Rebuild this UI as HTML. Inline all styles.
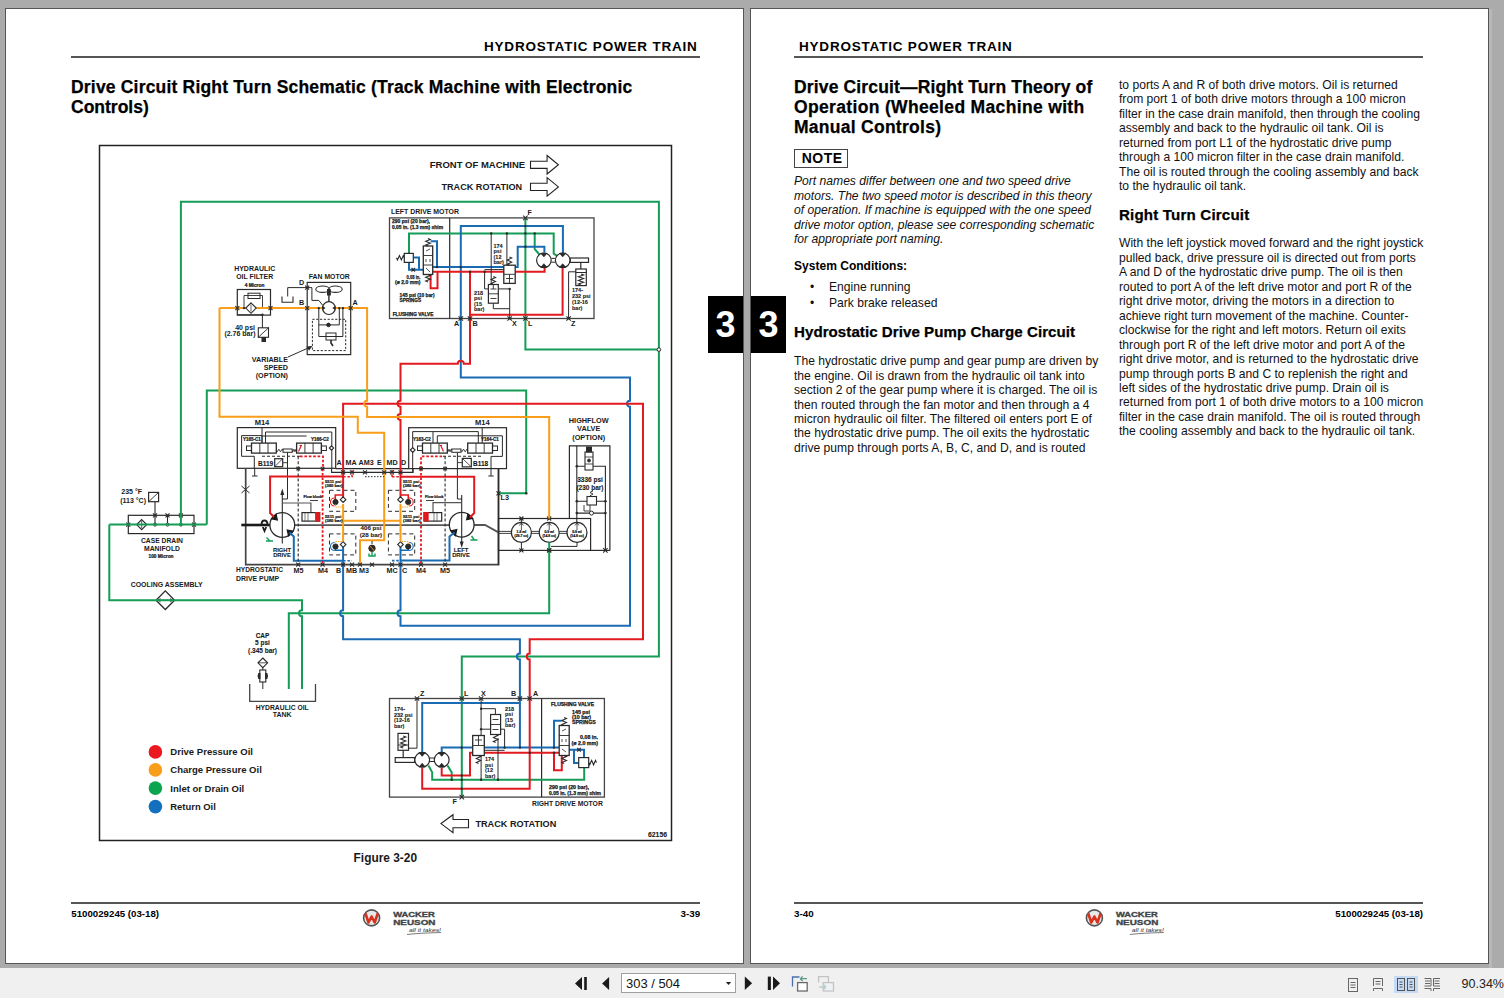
<!DOCTYPE html>
<html><head><meta charset="utf-8">
<style>
*{margin:0;padding:0;box-sizing:border-box}
html,body{width:1504px;height:998px;overflow:hidden;background:#ababab;font-family:"Liberation Sans",sans-serif;color:#000}
.abs{position:absolute}
.page{position:absolute;background:#fff;border:1px solid #555}
.t{position:absolute;white-space:nowrap;line-height:1}
.hd{font-weight:bold;font-size:13.5px;letter-spacing:0.8px}
.rule{position:absolute;height:2px;background:#555}
.h1{font-weight:bold;font-size:17.5px;line-height:20px;white-space:nowrap;-webkit-text-stroke:0.25px #000}
.body{font-size:12.12px;line-height:14.47px;color:#111}
.tab{position:absolute;background:#000;color:#fff;font-weight:bold;font-size:36px;text-align:center;line-height:57px}
#toolbar{position:absolute;left:0;top:968px;width:1504px;height:30px;background:#f0f0f0}
</style></head><body>
<!-- pages -->
<div class="page" style="left:5px;top:8px;width:739px;height:956px"></div>
<div class="page" style="left:750px;top:8px;width:739px;height:956px"></div>
<div class="abs" style="left:1489px;top:9px;width:3px;height:959px;background:#b8b8b8"></div>

<!-- side tabs -->
<div class="tab" style="left:708px;top:296px;width:35px;height:57px">3</div>
<div class="tab" style="left:751px;top:296px;width:35px;height:57px">3</div>

<!-- left page header -->
<div class="t hd" id="lhd" style="left:484px;top:40.4px">HYDROSTATIC POWER TRAIN</div>
<div class="rule" style="left:71px;top:56px;width:629px"></div>
<div class="abs h1" id="ltitle" style="left:71px;top:77px"><span style="letter-spacing:0.19px">Drive Circuit Right Turn Schematic (Track Machine with Electronic</span><br>Controls)</div>

<!-- right page header -->
<div class="t hd" id="rhd" style="left:799px;top:40.4px">HYDROSTATIC POWER TRAIN</div>
<div class="rule" style="left:794px;top:56px;width:629px"></div>


<!-- right page content -->
<div class="abs h1" id="rtitle" style="left:794px;top:77px"><span style="letter-spacing:0.15px">Drive Circuit—Right Turn Theory of</span><br><span style="letter-spacing:0.34px">Operation (Wheeled Machine with</span><br><span style="letter-spacing:0.27px">Manual Controls)</span></div>
<div class="abs" style="left:794px;top:149px;width:54px;height:19px;border:1.8px solid #444"></div>
<div class="t" id="note" style="left:801.8px;top:151px;font-weight:bold;font-size:14px;letter-spacing:0.45px">NOTE</div>
<div class="abs body" id="ital" style="left:794px;top:174.2px;font-style:italic;white-space:nowrap">Port names differ between one and two speed drive<br>motors. The two speed motor is described in this theory<br>of operation. If machine is equipped with the one speed<br>drive motor option, please see corresponding schematic<br>for appropriate port naming.</div>
<div class="t" id="sysc" style="left:794px;top:260.2px;font-weight:bold;font-size:12.05px">System Conditions:</div>
<div class="t body" style="left:810px;top:280px">&#8226;</div>
<div class="t body" style="left:810px;top:295.8px">&#8226;</div>
<div class="t body" id="b1" style="left:829px;top:280px">Engine running</div>
<div class="t body" style="left:829px;top:295.8px">Park brake released</div>
<div class="abs h1" id="h2a" style="left:794px;top:322px;font-size:15.1px;letter-spacing:0.05px">Hydrostatic Drive Pump Charge Circuit</div>
<div class="abs body" id="para1" style="left:794px;top:354.1px;white-space:nowrap">The hydrostatic drive pump and gear pump are driven by<br>the engine. Oil is drawn from the hydraulic oil tank into<br>section 2 of the gear pump where it is charged. The oil is<br>then routed through the fan motor and then through a 4<br>micron hydraulic oil filter. The filtered oil enters port E of<br>the hydrostatic drive pump. The oil exits the hydrostatic<br>drive pump through ports A, B, C, and D, and is routed</div>
<div class="abs body" id="para2" style="left:1119px;top:77.9px;white-space:nowrap">to ports A and R of both drive motors. Oil is returned<br>from port 1 of both drive motors through a 100 micron<br>filter in the case drain manifold, then through the cooling<br>assembly and back to the hydraulic oil tank. Oil is<br>returned from port L1 of the hydrostatic drive pump<br>through a 100 micron filter in the case drain manifold.<br>The oil is routed through the cooling assembly and back<br>to the hydraulic oil tank.</div>
<div class="abs h1" id="h2b" style="left:1119px;top:204.5px;font-size:15.1px;letter-spacing:0.18px">Right Turn Circuit</div>
<div class="abs body" id="para3" style="left:1119px;top:236.3px;white-space:nowrap">With the left joystick moved forward and the right joystick<br>pulled back, drive pressure oil is directed out from ports<br>A and D of the hydrostatic drive pump. The oil is then<br>routed to port A of the left drive motor and port R of the<br>right drive motor, driving the motors in a direction to<br>achieve right turn movement of the machine. Counter-<br>clockwise for the right and left motors. Return oil exits<br>through port R of the left drive motor and port A of the<br>right drive motor, and is returned to the hydrostatic drive<br>pump through ports B and C to replenish the right and<br>left sides of the hydrostatic drive pump. Drain oil is<br>returned from port 1 of both drive motors to a 100 micron<br>filter in the case drain manifold. The oil is routed through<br>the cooling assembly and back to the hydraulic oil tank.</div>


<svg class="abs" style="left:0;top:0" width="1504" height="998">
<rect x="99.5" y="145.5" width="572.0" height="695.0" stroke="#222" stroke-width="1.5" fill="none"/>
<rect x="389.5" y="217.9" width="204.5" height="100.6" stroke="#444" stroke-width="1.3" fill="none"/>
<path d="M449.7,217.9 V318.5" stroke="#2a2a2a" stroke-width="1.2" fill="none"/>
<rect x="389.5" y="698.5" width="214.9" height="98.6" stroke="#444" stroke-width="1.3" fill="none"/>
<path d="M541.6,698.5 V797.1" stroke="#2a2a2a" stroke-width="1.2" fill="none"/>
<rect x="307.2" y="282.4" width="43.5" height="72.2" stroke="#2a2a2a" stroke-width="1.2" fill="none"/>
<path d="M312.4,319.3 H345.7 V350.6 H312.4 Z" stroke="#2a2a2a" stroke-width="1.0" fill="none" stroke-dasharray="2.2,1.6"/>
<path d="M287.7,296.5 V287.6 H311.9 V300.4 H318.8 L322.5,305" stroke="#2a2a2a" stroke-width="1.0" fill="none"/>
<path d="M282,296.5 V302.3 H293 V296.5" stroke="#2a2a2a" stroke-width="1.1" fill="none"/>
<path d="M318.8,308 V336.5 H342.9 V308 M339.3,308 V324.9 H318.8" stroke="#2a2a2a" stroke-width="1.0" fill="none"/>
<rect x="326" y="333" width="10" height="7" stroke="#2a2a2a" stroke-width="1.0" fill="none"/>
<path d="M331,340 V343 L333,346" stroke="#2a2a2a" stroke-width="1.6" fill="none"/>
<circle cx="328.5" cy="324.9" r="1.8" stroke="#2a2a2a" stroke-width="1" fill="#2a2a2a"/>
<ellipse cx="322.6" cy="289.2" rx="6.8" ry="3.2" fill="none" stroke="#2a2a2a" stroke-width="1.1"/>
<ellipse cx="335.4" cy="289.2" rx="6.8" ry="3.2" fill="none" stroke="#2a2a2a" stroke-width="1.1"/>
<path d="M328.9,289.5 V302" stroke="#2a2a2a" stroke-width="1.4" fill="none"/>
<rect x="327.5" y="289.5" width="2.8" height="5.5" stroke="#2a2a2a" stroke-width="1" fill="#2a2a2a"/>
<path d="M288,357 L311.5,346.5" stroke="#2a2a2a" stroke-width="1.0" fill="none"/>
<path d="M312.4,346 L306.5,346.5 L309,350.8 Z" fill="#2a2a2a"/>
<rect x="237.3" y="289.5" width="33.2" height="25.6" stroke="#2a2a2a" stroke-width="1.2" fill="none"/>
<rect x="248" y="293.2" width="12" height="5.3" stroke="#2a2a2a" stroke-width="1.0" fill="none"/>
<path d="M244,308.1 V295.5 H262.5 V308.1" stroke="#2a2a2a" stroke-width="0.9" fill="none"/>
<path d="M237.3,314.8 H262.4 V327.8" stroke="#2a2a2a" stroke-width="1.0" fill="none"/>
<rect x="258.3" y="327.8" width="10.2" height="9.5" stroke="#2a2a2a" stroke-width="1.1" fill="none"/>
<path d="M258.3,337.3 L268.5,327.8" stroke="#2a2a2a" stroke-width="0.9" fill="none"/>
<rect x="262" y="337.5" width="3.5" height="4.0" stroke="#2a2a2a" stroke-width="1" fill="#2a2a2a"/>
<rect x="237.3" y="427.6" width="98.4" height="40.7" stroke="#2a2a2a" stroke-width="1.2" fill="none"/>
<path d="M241.6,435.6 V456.3 H254.3 V468.3" stroke="#2a2a2a" stroke-width="1.0" fill="none"/>
<path d="M241.6,435.6 H262 M331.8,432 H265.5 V443 M306.6,436 H262 V443 M262,427.6 V443" stroke="#2a2a2a" stroke-width="1.0" fill="none"/>
<path d="M331.8,432 V468.5" stroke="#2a2a2a" stroke-width="1.0" fill="none"/>
<rect x="251.5" y="443.1" width="24.8" height="10.0" stroke="#2a2a2a" stroke-width="1.3" fill="none"/>
<rect x="296.6" y="443.1" width="24.8" height="10.0" stroke="#2a2a2a" stroke-width="1.3" fill="none"/>
<path d="M259.8,443.1 V453.1 M268,443.1 V453.1 M304.9,443.1 V453.1 M313.1,443.1 V453.1" stroke="#2a2a2a" stroke-width="0.9" fill="none"/>
<rect x="246.5" y="446" width="5.0" height="4.5" stroke="#2a2a2a" stroke-width="1.0" fill="none"/>
<rect x="321.4" y="446" width="5.0" height="4.5" stroke="#2a2a2a" stroke-width="1.0" fill="none"/>
<rect x="283" y="449" width="9.2" height="3.3" stroke="#2a2a2a" stroke-width="1.0" fill="none"/>
<path d="M298.5,451.5 L301.5,445 M299.5,445.5 H302" stroke="#e21a20" stroke-width="1.2" fill="none"/>
<path d="M443.5,451.5 L440.5,445 M442,445.5 H439.5" stroke="#e21a20" stroke-width="1.2" fill="none"/>
<path d="M276.3,450.5 L277.1375,451.8 L278.8125,449.2 L280.4875,451.8 L282.1625,449.2 L283,450.5" stroke="#2a2a2a" stroke-width="0.9" fill="none"/>
<path d="M292.2,450.5 L292.75,451.8 L293.85,449.2 L294.95,451.8 L296.05,449.2 L296.6,450.5" stroke="#2a2a2a" stroke-width="0.9" fill="none"/>
<path d="M287.5,452.3 V499 H282.3" stroke="#2a2a2a" stroke-width="1.0" fill="none"/>
<path d="M331.5,445.8 L333.7,448 L331.5,450.2 L329.3,448 Z" stroke="#2a2a2a" stroke-width="1.1" fill="#fff"/>
<rect x="274.7" y="458.7" width="8.0" height="8.0" stroke="#2a2a2a" stroke-width="1.2" fill="none"/>
<path d="M274.7,466.7 L282.7,458.7" stroke="#2a2a2a" stroke-width="0.8" fill="none"/>
<path d="M282.7,462.7 H287.5" stroke="#2a2a2a" stroke-width="0.9" fill="none"/>
<path d="M254.7,468.3 V476 M252,476 H257.5" stroke="#2a2a2a" stroke-width="1.0" fill="none"/>
<rect x="408.7" y="427.7" width="97.8" height="40.9" stroke="#2a2a2a" stroke-width="1.2" fill="none"/>
<path d="M412.7,472.4 V431.6 H478.3 V443 M433,431.6 V443 M482.2,427.8 V443" stroke="#2a2a2a" stroke-width="1.0" fill="none"/>
<path d="M437.3,443 V435.8 H502.4" stroke="#2a2a2a" stroke-width="1.0" fill="none"/>
<path d="M502.4,435.8 V456.4 H491 V468.6" stroke="#2a2a2a" stroke-width="1.0" fill="none"/>
<rect x="422.5" y="443.1" width="24.8" height="10.0" stroke="#2a2a2a" stroke-width="1.3" fill="none"/>
<rect x="467.7" y="443.1" width="24.8" height="10.0" stroke="#2a2a2a" stroke-width="1.3" fill="none"/>
<path d="M430.8,443.1 V453.1 M439,443.1 V453.1 M476,443.1 V453.1 M484.2,443.1 V453.1" stroke="#2a2a2a" stroke-width="0.9" fill="none"/>
<rect x="417.5" y="446" width="5.0" height="4.5" stroke="#2a2a2a" stroke-width="1.0" fill="none"/>
<rect x="492.5" y="446" width="5.0" height="4.5" stroke="#2a2a2a" stroke-width="1.0" fill="none"/>
<rect x="451.8" y="449" width="9.2" height="3.3" stroke="#2a2a2a" stroke-width="1.0" fill="none"/>
<path d="M447.3,450.5 L447.8625,451.8 L448.9875,449.2 L450.1125,451.8 L451.2375,449.2 L451.8,450.5" stroke="#2a2a2a" stroke-width="0.9" fill="none"/>
<path d="M461,450.5 L461.8375,451.8 L463.5125,449.2 L465.1875,451.8 L466.8625,449.2 L467.7,450.5" stroke="#2a2a2a" stroke-width="0.9" fill="none"/>
<path d="M457.4,452.3 V468.6" stroke="#2a2a2a" stroke-width="1.0" fill="none"/>
<path d="M412.7,447.6 L415.09999999999997,450 L412.7,452.4 L410.3,450 Z" stroke="#2a2a2a" stroke-width="1.1" fill="#fff"/>
<rect x="462.3" y="458.4" width="9.0" height="8.5" stroke="#2a2a2a" stroke-width="1.2" fill="none"/>
<path d="M462.3,458.4 L471.3,466.9" stroke="#2a2a2a" stroke-width="0.8" fill="none"/>
<path d="M457.4,462.6 H462.3" stroke="#2a2a2a" stroke-width="0.9" fill="none"/>
<path d="M491,468.6 V476 M488.3,476 H493.7" stroke="#2a2a2a" stroke-width="1.0" fill="none"/>
<path d="M245.7,468.3 V564.6 H498.5 V468.6" stroke="#444" stroke-width="1.7" fill="none"/>
<path d="M335.7,468.6 H408.7" stroke="#2a2a2a" stroke-width="1.2" fill="none"/>
<path d="M331.6,468.6 V472.4 H413.1 V468.6" stroke="#2a2a2a" stroke-width="1.1" fill="none"/>
<path d="M241.3,525 H270" stroke="#1a1a1a" stroke-width="2.6" fill="none"/>
<path d="M261.5,525 Q261.5,520.5 264.5,520.5 Q267.5,520.5 267.5,525 M262.8,527 L264.5,531 L266.2,527" fill="none" stroke="#1a1a1a" stroke-width="1.8"/>
<path d="M294.2,525.2 H449.2 M473.8,525 H485 L498.5,532.4" stroke="#555" stroke-width="1.8" fill="none"/>
<path d="M241.5,486 L249.5,493 M241.5,493 L249.5,486" stroke="#2a2a2a" stroke-width="1.0" fill="none"/>
<circle cx="282.3" cy="525.0" r="12.4" stroke="#2a2a2a" stroke-width="1.3" fill="#fff"/>
<circle cx="461.7" cy="524.7" r="12.4" stroke="#2a2a2a" stroke-width="1.3" fill="#fff"/>
<path d="M282.3,492 V543.5" stroke="#2a2a2a" stroke-width="1.1" fill="none"/>
<path d="M461.7,494.9 V543.5" stroke="#2a2a2a" stroke-width="1.1" fill="none"/>
<path d="M280.3,495 L282.3,488.5 L284.3,495 Z M459.7,541.5 L461.7,548 L463.7,541.5 Z" fill="#2a2a2a"/>
<path d="M276.08,514.25 L271.55,518.78 L277.35,520.05 Z" fill="#1a1a1a" stroke="#1a1a1a" stroke-width="1.2"/>
<path d="M288.52,535.75 L293.05,531.22 L287.25,529.95 Z" fill="#1a1a1a" stroke="#1a1a1a" stroke-width="1.2"/>
<path d="M472.45,518.48 L467.92,513.95 L466.65,519.75 Z" fill="#1a1a1a" stroke="#1a1a1a" stroke-width="1.2"/>
<path d="M450.95,530.92 L455.48,535.45 L456.75,529.65 Z" fill="#1a1a1a" stroke="#1a1a1a" stroke-width="1.2"/>
<path d="M282.3,503 H310.9 V512.6" stroke="#555" stroke-width="1.2" fill="none"/>
<path d="M461.7,502.6 H433 V512.6" stroke="#555" stroke-width="1.2" fill="none"/>
<path d="M457.4,468.6 V499 H461.7" stroke="#2a2a2a" stroke-width="1.0" fill="none"/>
<rect x="302" y="512.6" width="17.7" height="8.5" stroke="#2a2a2a" stroke-width="1.2" fill="none"/>
<rect x="315.5" y="512.6" width="4.2" height="8.5" stroke="#e21a20" stroke-width="0.8" fill="#e21a20"/>
<rect x="424" y="512.6" width="17.7" height="8.5" stroke="#2a2a2a" stroke-width="1.2" fill="none"/>
<rect x="424" y="512.6" width="4.2" height="8.5" stroke="#e21a20" stroke-width="0.8" fill="#e21a20"/>
<path d="M305,512.6 V521.1 M308,512.6 V521.1" stroke="#2a2a2a" stroke-width="0.6" fill="none"/>
<path d="M434,512.6 V521.1 M437,512.6 V521.1" stroke="#2a2a2a" stroke-width="0.6" fill="none"/>
<path d="M318,500.5 H310 M434,500.5 H426" stroke="#2a2a2a" stroke-width="0.9" fill="none"/>
<path d="M329.5,490.3 H355.8 V511.3 H329.5 Z" stroke="#2a2a2a" stroke-width="1.0" fill="none" stroke-dasharray="4,3"/>
<path d="M329.5,533.9 H355.8 V554.9 H329.5 Z" stroke="#2a2a2a" stroke-width="1.0" fill="none" stroke-dasharray="4,3"/>
<path d="M388.4,490.3 H414.7 V511.3 H388.4 Z" stroke="#2a2a2a" stroke-width="1.0" fill="none" stroke-dasharray="4,3"/>
<path d="M388.4,533.9 H414.7 V554.9 H388.4 Z" stroke="#2a2a2a" stroke-width="1.0" fill="none" stroke-dasharray="4,3"/>
<rect x="498.5" y="518.5" width="92.1" height="31.9" stroke="#2a2a2a" stroke-width="1.2" fill="none"/>
<path d="M498.5,565 V468.6" stroke="#2a2a2a" stroke-width="1.3" fill="none"/>
<path d="M590.6,550.4 H609.9" stroke="#2a2a2a" stroke-width="1.2" fill="none"/>
<circle cx="521.4" cy="532.4" r="10" stroke="#2a2a2a" stroke-width="1.2" fill="#fff"/>
<path d="M519.4,525.5 L521.4,523 L523.4,525.5 M521.4,523 V530" stroke="#2a2a2a" stroke-width="0.8" fill="none"/>
<circle cx="549.2" cy="532.4" r="10" stroke="#2a2a2a" stroke-width="1.2" fill="#fff"/>
<path d="M547.2,525.5 L549.2,523 L551.2,525.5 M549.2,523 V530" stroke="#2a2a2a" stroke-width="0.8" fill="none"/>
<circle cx="577.0" cy="532.4" r="10" stroke="#2a2a2a" stroke-width="1.2" fill="#fff"/>
<path d="M575.0,525.5 L577.0,523 L579.0,525.5 M577.0,523 V530" stroke="#2a2a2a" stroke-width="0.8" fill="none"/>
<path d="M498.5,531.4 H511.4 M498.5,533.4 H511.4 M531.4,531.4 H539.2 M531.4,533.4 H539.2 M559.2,531.4 H567 M559.2,533.4 H567" stroke="#2a2a2a" stroke-width="0.9" fill="none"/>
<path d="M521.4,518.5 V522.4 M521.4,542.4 V550.4 M577,542.4 V546.4 H551" stroke="#2a2a2a" stroke-width="1.0" fill="none"/>
<path d="M519.4,516.5 L523.4,520.5 M519.4,520.5 L523.4,516.5" stroke="#2a2a2a" stroke-width="1.1" fill="none"/>
<path d="M519.4,548.4 L523.4,552.4 M519.4,552.4 L523.4,548.4" stroke="#2a2a2a" stroke-width="1.1" fill="none"/>
<path d="M547.2,516.5 L551.2,520.5 M547.2,520.5 L551.2,516.5" stroke="#2a2a2a" stroke-width="1.1" fill="none"/>
<path d="M547.2,548.4 L551.2,552.4 M547.2,552.4 L551.2,548.4" stroke="#2a2a2a" stroke-width="1.1" fill="none"/>
<path d="M569.4,518.5 V445.8 H609.9 V550.4" stroke="#2a2a2a" stroke-width="1.2" fill="none"/>
<path d="M576.8,445.8 V522.4" stroke="#2a2a2a" stroke-width="1.1" fill="none"/>
<path d="M576.8,466.2 H605.4 V550.4 M576.8,501.3 H605.4 M576.8,513.1 H605.4" stroke="#2a2a2a" stroke-width="1.1" fill="none"/>
<rect x="585" y="452" width="8" height="18" stroke="#2a2a2a" stroke-width="1.1" fill="#fff"/>
<rect x="586.5" y="447" width="5.0" height="5" stroke="#2a2a2a" stroke-width="1.0" fill="#2a2a2a"/>
<path d="M585,457 H593 M585,464 H593" stroke="#2a2a2a" stroke-width="0.8" fill="none"/>
<circle cx="589" cy="460.5" r="1.5" stroke="#2a2a2a" stroke-width="0.8" fill="#2a2a2a"/>
<rect x="587" y="496.5" width="9.5" height="8.5" stroke="#2a2a2a" stroke-width="1.1" fill="#fff"/>
<path d="M584,505 V511 H590 V505" stroke="#2a2a2a" stroke-width="0.9" fill="none"/>
<path d="M591.5,490 L593.0,490.8125 L590.0,492.4375 L593.0,494.0625 L590.0,495.6875 L591.5,496.5" stroke="#2a2a2a" stroke-width="0.9" fill="none"/>
<circle cx="591.5" cy="513.1" r="2.0" stroke="#2a2a2a" stroke-width="1.0" fill="#fff"/>
<circle cx="576.8" cy="466.2" r="1.3" fill="#2a2a2a"/>
<circle cx="576.8" cy="501.3" r="1.3" fill="#2a2a2a"/>
<circle cx="605.4" cy="501.3" r="1.3" fill="#2a2a2a"/>
<circle cx="576.8" cy="513.1" r="1.3" fill="#2a2a2a"/>
<circle cx="605.4" cy="513.1" r="1.3" fill="#2a2a2a"/>
<path d="M603.1999999999999,548.1999999999999 L607.6,552.6 M603.1999999999999,552.6 L607.6,548.1999999999999" stroke="#2a2a2a" stroke-width="1.1" fill="none"/>
<rect x="128.3" y="515.3" width="65.7" height="18.3" stroke="#2a2a2a" stroke-width="1.2" fill="none"/>
<path d="M155,501.7 V524.6 M167.5,515.3 V524.6" stroke="#2a2a2a" stroke-width="1.1" fill="none"/>
<rect x="148.6" y="492.4" width="10.0" height="9.3" stroke="#2a2a2a" stroke-width="1.2" fill="none"/>
<path d="M148.6,501.7 L158.6,492.4" stroke="#2a2a2a" stroke-width="0.9" fill="none"/>
<path d="M141.7,519.6 L146.7,524.6 L141.7,529.6 L136.7,524.6 Z" stroke="#2a2a2a" stroke-width="1.2" fill="#fff"/>
<path d="M141.7,521 V528.2" stroke="#2a2a2a" stroke-width="0.8" fill="none"/>
<path d="M153.0,513.3 L157.0,517.3 M153.0,517.3 L157.0,513.3" stroke="#2a2a2a" stroke-width="1.1" fill="none"/>
<path d="M165.5,513.3 L169.5,517.3 M165.5,517.3 L169.5,513.3" stroke="#2a2a2a" stroke-width="1.1" fill="none"/>
<path d="M178.9,513.3 L182.9,517.3 M178.9,517.3 L182.9,513.3" stroke="#2a2a2a" stroke-width="1.1" fill="none"/>
<circle cx="155" cy="524.6" r="1.5" stroke="#2a2a2a" stroke-width="1.0" fill="#fff"/>
<circle cx="167.5" cy="524.6" r="1.5" stroke="#2a2a2a" stroke-width="1.0" fill="#fff"/>
<circle cx="180.9" cy="524.6" r="1.5" stroke="#2a2a2a" stroke-width="1.0" fill="#fff"/>
<path d="M126.30000000000001,522.6 L130.3,526.6 M126.30000000000001,526.6 L130.3,522.6" stroke="#2a2a2a" stroke-width="1.1" fill="none"/>
<path d="M192.0,522.6 L196.0,526.6 M192.0,526.6 L196.0,522.6" stroke="#2a2a2a" stroke-width="1.1" fill="none"/>
<path d="M165.3,590.9000000000001 L174.60000000000002,600.2 L165.3,609.5 L156.0,600.2 Z" stroke="#2a2a2a" stroke-width="1.3" fill="#fff"/>
<path d="M158,600.2 H172.6 M158,600.2 L160.5,598.5 M158,600.2 L160.5,601.9 M172.6,600.2 L170.1,598.5 M172.6,600.2 L170.1,601.9" stroke="#2a2a2a" stroke-width="0.9" fill="none"/>
<path d="M249.7,684 V701.3 H315.5 V684" stroke="#444" stroke-width="1.3" fill="none"/>
<path d="M262.8,658.0 L267.6,662.8 L262.8,667.5999999999999 L258.0,662.8 Z" stroke="#2a2a2a" stroke-width="1.1" fill="#fff"/>
<path d="M258,662.8 H267.5" stroke="#2a2a2a" stroke-width="0.8" fill="none"/>
<rect x="259.8" y="670" width="6.0" height="12" stroke="#2a2a2a" stroke-width="1.1" fill="#fff"/>
<path d="M258.3,673 Q256.8,676 258.3,679 L260.5,679 L260.5,673 Z M267.3,673 Q268.8,676 267.3,679 L265,679 L265,673 Z" fill="#2a2a2a"/>
<path d="M262.8,682 V689 M262.8,667.6 V670" stroke="#2a2a2a" stroke-width="1.0" fill="none"/>
<path d="M180.9,524.6 V201.7 H658.9 V656.6 H461.8 V797.1" stroke="#159d58" stroke-width="2.0" fill="none"/>
<path d="M525.4,217.9 V349.6 H658.9" stroke="#159d58" stroke-width="2.0" fill="none"/>
<path d="M409,253.4 V233.4 H553.7 V253.6 L558,256.5" stroke="#159d58" stroke-width="2.0" fill="none"/>
<path d="M534.7,233.4 V249.2 L539.5,254.5" stroke="#159d58" stroke-width="2.0" fill="none"/>
<path d="M206.8,524.6 V390.5 H526.2 V493.3 H498.5" stroke="#159d58" stroke-width="2.0" fill="none"/>
<path d="M109.3,524.6 H206.8" stroke="#159d58" stroke-width="2.0" fill="none"/>
<path d="M109.3,524.6 V600.2 H302 V610.3 A3,3 0 0 0 302,616.3 V689" stroke="#159d58" stroke-width="2.0" fill="none"/>
<path d="M288.8,689 V613.3 H549.2 V542.4" stroke="#159d58" stroke-width="2.0" fill="none"/>
<path d="M428.5,765.5 L432.2,772.4 V779.7 H584.2 V767.6" stroke="#159d58" stroke-width="2.0" fill="none"/>
<path d="M447.5,765.5 L451.7,772.4 V779.7" stroke="#159d58" stroke-width="2.0" fill="none"/>
<path d="M460.8,318.5 V377.4 H630 V400.7 A3,3 0 0 0 630,406.7 V625.7 H400.5 V616.3 A3,3 0 0 1 400.5,610.3 V545" stroke="#196bb3" stroke-width="2.0" fill="none"/>
<path d="M460.8,318.5 V226.1 H562.9 V253" stroke="#196bb3" stroke-width="2.0" fill="none"/>
<path d="M409,262.4 V269.7 H423.3 M413.3,257.6 H419 V269.7" stroke="#196bb3" stroke-width="2.0" fill="none"/>
<path d="M432.7,267.1 H517.7 V246.8 H544.4 V252.5" stroke="#196bb3" stroke-width="2.0" fill="none"/>
<path d="M437,267.1 V241.3 H430.6" stroke="#196bb3" stroke-width="2.0" fill="none"/>
<path d="M343.1,545 V610.3 A3,3 0 0 0 343.1,616.3 V639.3 H519.9 V653.6 A3,3 0 0 0 519.9,659.6 V747.6" stroke="#196bb3" stroke-width="2.0" fill="none"/>
<path d="M422.2,752.5 V702.9 H519.9" stroke="#196bb3" stroke-width="2.0" fill="none"/>
<path d="M441.7,752.5 V747.6 H559.2" stroke="#196bb3" stroke-width="2.0" fill="none"/>
<path d="M554,747.6 V720.8 H561.8" stroke="#196bb3" stroke-width="2.0" fill="none"/>
<path d="M569.2,749.7 H584 V757.6 M574,749.7 V762.9 H578.7" stroke="#196bb3" stroke-width="2.0" fill="none"/>
<path d="M289.5,532.5 L293.8,536.5 V560.8 H343.1" stroke="#196bb3" stroke-width="2.0" fill="none"/>
<path d="M454.5,532.5 L449.5,536.5 V560.6 H400.5" stroke="#196bb3" stroke-width="2.0" fill="none"/>
<path d="M335.3,545 V550.3 H343.1 M408.3,545 V550.3 H400.5" stroke="#196bb3" stroke-width="1.6" fill="none"/>
<path d="M343.1,560.8 H352 M392,560.6 H400.5" stroke="#196bb3" stroke-width="1.6" fill="none" stroke-dasharray="2.5,1.8"/>
<path d="M343.1,499.2 V403.7 H643 V639.3 H529.7 V653.6 A3,3 0 0 0 529.7,659.6 V788.7 H422.2 V768" stroke="#e21a20" stroke-width="2.0" fill="none"/>
<path d="M400.5,499.2 V419.9 A3,3 0 0 1 400.5,413.9 V406.7 A3,3 0 0 1 400.5,400.7 V363.7 H457.8 A3,3 0 0 1 463.8,363.7 H470 V271.8" stroke="#e21a20" stroke-width="2.0" fill="none"/>
<path d="M432.7,271.8 H544.6 V268" stroke="#e21a20" stroke-width="2.0" fill="none"/>
<path d="M470,314.8 H562.6 V268" stroke="#e21a20" stroke-width="2.0" fill="none"/>
<path d="M430.6,271.8 V288.2 H437.5 V271.8" stroke="#e21a20" stroke-width="2.0" fill="none"/>
<path d="M274,517 L270.1,513 V476.6 H343.1" stroke="#e21a20" stroke-width="2.0" fill="none"/>
<path d="M470,517.5 L474.2,513 V476.8 H400.5" stroke="#e21a20" stroke-width="2.0" fill="none"/>
<path d="M441.7,768 V775.5 H470 V752.7 H559.2" stroke="#e21a20" stroke-width="2.0" fill="none"/>
<path d="M554,752.7 V770.3 H561.8 V755.5" stroke="#e21a20" stroke-width="2.0" fill="none"/>
<path d="M343.1,495 H335.3 V500 M400.5,495 H408.3 V500" stroke="#e21a20" stroke-width="1.6" fill="none"/>
<path d="M219.5,308.1 H367.1 V400.7 A3,3 0 0 0 367.1,406.7 V416.9 H549.2 V518.5" stroke="#f89e1b" stroke-width="2.0" fill="none"/>
<path d="M219.5,308.1 V416.8 H357.8 V432.8 H384.2 V540.3 H360 V564.6" stroke="#f89e1b" stroke-width="2.0" fill="none"/>
<path d="M343.1,504 V541 M400.5,504 V541 M343.1,520.8 H400.5" stroke="#f89e1b" stroke-width="2.0" fill="none"/>
<path d="M322.6,468.6 V564.6 M421,468.6 V564.6" stroke="#e21a20" stroke-width="1.8" fill="none" stroke-dasharray="2.6,1.8"/>
<path d="M300,456.3 H323 V468.6 M421,468.6 V456.3 H443" stroke="#e21a20" stroke-width="1.8" fill="none" stroke-dasharray="2.6,1.8"/>
<path d="M343.1,476.7 H352 V468.6 M392,476.7 H400.5 M392,476.7 V468.6" stroke="#e21a20" stroke-width="1.6" fill="none" stroke-dasharray="2.5,1.8"/>
<path d="M298.2,468.6 V564.6 M445.1,468.6 V564.6" stroke="#2a2a2a" stroke-width="1.1" fill="none" stroke-dasharray="3,2"/>
<path d="M262,456.3 H300 M298.2,456.3 V468.6 M443,456.3 H482 M445.1,456.3 V468.6" stroke="#2a2a2a" stroke-width="1.1" fill="none" stroke-dasharray="3,2"/>
<path d="M365,476.7 H384.2" stroke="#2a2a2a" stroke-width="1.0" fill="none" stroke-dasharray="1.5,1.5"/>
<path d="M372,541 V544" stroke="#2a2a2a" stroke-width="1" fill="none"/>
<circle cx="372" cy="548.3" r="3.2" stroke="#2a2a2a" stroke-width="1.0" fill="#2a2a2a"/>
<path d="M369.5,545.5 L374.5,551" stroke="#f89e1b" stroke-width="0.9" fill="none"/>
<path d="M369,553.5 V556 H375 V553.5 M372,551.5 V556" stroke="#159d58" stroke-width="1.4" fill="none"/>
<path d="M266.5,537.5 L270,541 M266,541 H273" stroke="#159d58" stroke-width="1.4" fill="none"/>
<path d="M471.5,536 L474,539.5 M470.5,540 H477.5" stroke="#159d58" stroke-width="1.4" fill="none"/>
<path d="M343.1,496.9 L345.90000000000003,499.7 L343.1,502.5 L340.3,499.7 Z" stroke="#2a2a2a" stroke-width="1.1" fill="#fff"/>
<path d="M343.1,541.7 L345.90000000000003,544.5 L343.1,547.3 L340.3,544.5 Z" stroke="#2a2a2a" stroke-width="1.1" fill="#fff"/>
<path d="M400.5,496.9 L403.3,499.7 L400.5,502.5 L397.7,499.7 Z" stroke="#2a2a2a" stroke-width="1.1" fill="#fff"/>
<path d="M400.5,541.7 L403.3,544.5 L400.5,547.3 L397.7,544.5 Z" stroke="#2a2a2a" stroke-width="1.1" fill="#fff"/>
<circle cx="335.5" cy="502" r="2.6" stroke="#2a2a2a" stroke-width="1" fill="#2a2a2a"/>
<circle cx="335.5" cy="546.5" r="2.6" stroke="#2a2a2a" stroke-width="1" fill="#2a2a2a"/>
<circle cx="408.2" cy="502" r="2.6" stroke="#2a2a2a" stroke-width="1" fill="#2a2a2a"/>
<circle cx="408.2" cy="546.5" r="2.6" stroke="#2a2a2a" stroke-width="1" fill="#2a2a2a"/>
<path d="M334.5,498 A4,4 0 0 0 334.5,506" stroke="#e21a20" stroke-width="1.1" fill="none"/>
<path d="M334.5,542.5 A4,4 0 0 0 334.5,550.5" stroke="#196bb3" stroke-width="1.1" fill="none"/>
<path d="M335.5,504.6 V507 H343.1" stroke="#f89e1b" stroke-width="1.0" fill="none" stroke-dasharray="1.4,1"/>
<path d="M335.5,543.9 V541.5 H343.1" stroke="#f89e1b" stroke-width="1.0" fill="none" stroke-dasharray="1.4,1"/>
<path d="M409.2,498 A4,4 0 0 1 409.2,506" stroke="#e21a20" stroke-width="1.1" fill="none"/>
<path d="M409.2,542.5 A4,4 0 0 1 409.2,550.5" stroke="#196bb3" stroke-width="1.1" fill="none"/>
<path d="M408.2,504.6 V507 H400.59999999999997" stroke="#f89e1b" stroke-width="1.0" fill="none" stroke-dasharray="1.4,1"/>
<path d="M408.2,543.9 V541.5 H400.59999999999997" stroke="#f89e1b" stroke-width="1.0" fill="none" stroke-dasharray="1.4,1"/>
<rect x="404.3" y="253.4" width="9.0" height="9.0" stroke="#2a2a2a" stroke-width="1.2" fill="#fff"/>
<path d="M396.5,257.8 L397.475,260.0 L399.425,255.60000000000002 L401.375,260.0 L403.325,255.60000000000002 L404.3,257.8" stroke="#2a2a2a" stroke-width="1.1" fill="none"/>
<rect x="423.3" y="246" width="9.4" height="28.5" stroke="#2a2a2a" stroke-width="1.3" fill="#fff"/>
<path d="M423.3,255.5 H432.7 M423.3,265 H432.7" stroke="#2a2a2a" stroke-width="0.9" fill="none"/>
<path d="M426,251 L430,249 M426,259 V262 M430,259 V262 M426,268 L430,272" stroke="#2a2a2a" stroke-width="0.8" fill="none"/>
<path d="M428,238.5 L430.3,239.4375 L425.7,241.3125 L430.3,243.1875 L425.7,245.0625 L428,246" stroke="#2a2a2a" stroke-width="1.1" fill="none"/>
<path d="M428,274.5 L430.3,275.4375 L425.7,277.3125 L430.3,279.1875 L425.7,281.0625 L428,282" stroke="#2a2a2a" stroke-width="1.1" fill="none"/>
<path d="M411.5,267.9 L415.1,271.5 M411.5,271.5 L415.1,267.9" stroke="#2a2a2a" stroke-width="1.1" fill="none"/>
<path d="M491.2,232.6 V284.5 M506.9,232.6 V265.2" stroke="#2a2a2a" stroke-width="1.0" fill="none"/>
<path d="M484.6,271.8 V288.9 H488.4 M498.3,288.9 H509.7 V318.5 M493.3,303.2 V308.7 H509.7 M484.6,269.6 H503.8" stroke="#2a2a2a" stroke-width="1.0" fill="none"/>
<rect x="488.4" y="284.5" width="9.9" height="18.7" stroke="#2a2a2a" stroke-width="1.2" fill="#fff"/>
<path d="M488.4,293.8 H498.3 M490.5,298.5 H496.5 M490.5,289 H496.5 M493.3,284.5 V289" stroke="#2a2a2a" stroke-width="0.9" fill="none"/>
<path d="M493.3,276.5 L495.5,277.5 L491.1,279.5 L495.5,281.5 L491.1,283.5 L493.3,284.5" stroke="#2a2a2a" stroke-width="1.1" fill="none"/>
<rect x="503.8" y="265.2" width="11.4" height="18.2" stroke="#2a2a2a" stroke-width="1.3" fill="#fff"/>
<path d="M503.8,274.3 H515.2 M506,278.5 H513 M509.5,274.3 V283.4" stroke="#2a2a2a" stroke-width="0.9" fill="none"/>
<path d="M509.5,257 L511.7,258.025 L507.3,260.075 L511.7,262.125 L507.3,264.175 L509.5,265.2" stroke="#2a2a2a" stroke-width="1.1" fill="none"/>
<path d="M551.3,258.4 H555.2 M551.3,262.2 H555.2" stroke="#2a2a2a" stroke-width="1.0" fill="none"/>
<circle cx="543.9" cy="260.3" r="7.3" stroke="#2a2a2a" stroke-width="1.2" fill="#fff"/>
<path d="M540.834,253.3 L546.966,253.3 L543.9,256.8325 Z M540.834,267.3 L546.966,267.3 L543.9,263.76750000000004 Z" fill="#2a2a2a" stroke="#2a2a2a" stroke-width="0.8"/>
<circle cx="562.7" cy="260.3" r="7.3" stroke="#2a2a2a" stroke-width="1.2" fill="#fff"/>
<path d="M559.634,253.3 L565.7660000000001,253.3 L562.7,256.8325 Z M559.634,267.3 L565.7660000000001,267.3 L562.7,263.76750000000004 Z" fill="#2a2a2a" stroke="#2a2a2a" stroke-width="0.8"/>
<rect x="570.3" y="258" width="18.2" height="4.4" stroke="#2a2a2a" stroke-width="1.2" fill="#fff"/>
<path d="M580.8,262.4 V269" stroke="#2a2a2a" stroke-width="1.2" fill="none"/>
<rect x="575.8" y="269" width="10.5" height="16.6" stroke="#2a2a2a" stroke-width="1.2" fill="#fff"/>
<path d="M575.8,272.5 H586.3" stroke="#2a2a2a" stroke-width="1.0" fill="none"/>
<path d="M581,274 L583.6,274.9166666666667 L578.4,276.75 L583.6,278.5833333333333 L578.4,280.4166666666667 L583.6,282.25 L578.4,284.0833333333333 L581,285" stroke="#2a2a2a" stroke-width="1.1" fill="none"/>
<path d="M568.6,318.5 V271.8 H575.8" stroke="#2a2a2a" stroke-width="1.0" fill="none"/>
<path d="M523.1999999999999,215.70000000000002 L527.6,220.1 M523.1999999999999,220.1 L527.6,215.70000000000002" stroke="#2a2a2a" stroke-width="1.1" fill="none"/>
<path d="M458.6,316.3 L463.0,320.7 M458.6,320.7 L463.0,316.3" stroke="#2a2a2a" stroke-width="1.1" fill="none"/>
<path d="M467.8,316.3 L472.2,320.7 M467.8,320.7 L472.2,316.3" stroke="#2a2a2a" stroke-width="1.1" fill="none"/>
<path d="M507.5,316.3 L511.9,320.7 M507.5,320.7 L511.9,316.3" stroke="#2a2a2a" stroke-width="1.1" fill="none"/>
<path d="M523.1999999999999,316.3 L527.6,320.7 M523.1999999999999,320.7 L527.6,316.3" stroke="#2a2a2a" stroke-width="1.1" fill="none"/>
<path d="M566.4,316.3 L570.8000000000001,320.7 M566.4,320.7 L570.8000000000001,316.3" stroke="#2a2a2a" stroke-width="1.1" fill="none"/>
<circle cx="491.2" cy="233.4" r="1.2" fill="#2a2a2a"/>
<circle cx="506.9" cy="233.4" r="1.2" fill="#2a2a2a"/>
<circle cx="525.4" cy="233.4" r="1.2" fill="#2a2a2a"/>
<circle cx="534.7" cy="233.4" r="1.2" fill="#2a2a2a"/>
<circle cx="525.4" cy="226.1" r="1.2" fill="#2a2a2a"/>
<circle cx="460.8" cy="267.1" r="1.2" fill="#2a2a2a"/>
<circle cx="525.4" cy="246.8" r="1.2" fill="#2a2a2a"/>
<circle cx="470" cy="271.8" r="1.2" fill="#2a2a2a"/>
<circle cx="484.6" cy="271.8" r="1.2" fill="#2a2a2a"/>
<circle cx="509.7" cy="288.9" r="1.2" fill="#2a2a2a"/>
<circle cx="437" cy="267.1" r="1.2" fill="#2a2a2a"/>
<path d="M417,698.5 V748.2 H408.5" stroke="#2a2a2a" stroke-width="1.0" fill="none"/>
<rect x="398" y="733.4" width="10.5" height="16.9" stroke="#2a2a2a" stroke-width="1.2" fill="#fff"/>
<path d="M403.2,736 L405.8,737.0 L400.59999999999997,739.0 L405.8,741.0 L400.59999999999997,743.0 L405.8,745.0 L400.59999999999997,747.0 L403.2,748" stroke="#2a2a2a" stroke-width="1.1" fill="none"/>
<path d="M398,745 H408.5" stroke="#2a2a2a" stroke-width="0.9" fill="none"/>
<path d="M403.2,750.3 V757.6" stroke="#2a2a2a" stroke-width="1.2" fill="none"/>
<rect x="395.2" y="757.6" width="19.4" height="4.8" stroke="#2a2a2a" stroke-width="1.2" fill="#fff"/>
<path d="M429.9,758 H434 M429.9,761.5 H434" stroke="#2a2a2a" stroke-width="1.0" fill="none"/>
<circle cx="422.2" cy="759.8" r="7.4" stroke="#2a2a2a" stroke-width="1.2" fill="#fff"/>
<path d="M419.092,752.6999999999999 L425.308,752.6999999999999 L422.2,756.285 Z M419.092,766.9 L425.308,766.9 L422.2,763.3149999999999 Z" fill="#2a2a2a" stroke="#2a2a2a" stroke-width="0.8"/>
<circle cx="441.7" cy="759.8" r="7.4" stroke="#2a2a2a" stroke-width="1.2" fill="#fff"/>
<path d="M438.592,752.6999999999999 L444.808,752.6999999999999 L441.7,756.285 Z M438.592,766.9 L444.808,766.9 L441.7,763.3149999999999 Z" fill="#2a2a2a" stroke="#2a2a2a" stroke-width="0.8"/>
<path d="M481.1,698.5 V779.7 M498,738 V779.7" stroke="#2a2a2a" stroke-width="1.0" fill="none"/>
<path d="M481.1,708.7 H495.4 V714.5 M481.1,729.2 H490.6 M500.6,729.2 H504.6 V747.6 M481.1,750.3 H504.6" stroke="#2a2a2a" stroke-width="1.0" fill="none"/>
<rect x="472.7" y="735.5" width="11.6" height="20.0" stroke="#2a2a2a" stroke-width="1.3" fill="#fff"/>
<path d="M472.7,745.5 H484.3 M475,740 H482 M478.5,735.5 V745.5" stroke="#2a2a2a" stroke-width="0.9" fill="none"/>
<path d="M478.5,755.5 L480.7,756.5 L476.3,758.5 L480.7,760.5 L476.3,762.5 L478.5,763.5" stroke="#2a2a2a" stroke-width="1.1" fill="none"/>
<rect x="490.6" y="714.5" width="10.0" height="20.0" stroke="#2a2a2a" stroke-width="1.2" fill="#fff"/>
<path d="M490.6,724.5 H500.6 M492.5,719.5 H498.5 M492.5,729.5 H498.5" stroke="#2a2a2a" stroke-width="0.9" fill="none"/>
<path d="M495.6,734.5 L497.8,735.5 L493.40000000000003,737.5 L497.8,739.5 L493.40000000000003,741.5 L495.6,742.5" stroke="#2a2a2a" stroke-width="1.1" fill="none"/>
<rect x="559.2" y="725.5" width="10.0" height="30.0" stroke="#2a2a2a" stroke-width="1.3" fill="#fff"/>
<path d="M559.2,735.5 H569.2 M559.2,745.5 H569.2" stroke="#2a2a2a" stroke-width="0.9" fill="none"/>
<path d="M562,731 L566,729 M562,739 V742 M566,739 V742 M562,749 L566,752" stroke="#2a2a2a" stroke-width="0.8" fill="none"/>
<path d="M564.2,717.5 L566.5,718.5 L561.9000000000001,720.5 L566.5,722.5 L561.9000000000001,724.5 L564.2,725.5" stroke="#2a2a2a" stroke-width="1.1" fill="none"/>
<path d="M564.2,755.5 L566.5,756.5 L561.9000000000001,758.5 L566.5,760.5 L561.9000000000001,762.5 L564.2,763.5" stroke="#2a2a2a" stroke-width="1.1" fill="none"/>
<rect x="578.7" y="757.6" width="10.0" height="10.0" stroke="#2a2a2a" stroke-width="1.2" fill="#fff"/>
<path d="M588.7,762.6 L589.6750000000001,764.8000000000001 L591.625,760.4 L593.575,764.8000000000001 L595.525,760.4 L596.5,762.6" stroke="#2a2a2a" stroke-width="1.1" fill="none"/>
<path d="M577.2,747.9000000000001 L580.8,751.5 M577.2,751.5 L580.8,747.9000000000001" stroke="#2a2a2a" stroke-width="1.1" fill="none"/>
<path d="M414.8,696.3 L419.2,700.7 M414.8,700.7 L419.2,696.3" stroke="#2a2a2a" stroke-width="1.1" fill="none"/>
<path d="M459.6,696.3 L464.0,700.7 M459.6,700.7 L464.0,696.3" stroke="#2a2a2a" stroke-width="1.1" fill="none"/>
<path d="M478.90000000000003,696.3 L483.3,700.7 M478.90000000000003,700.7 L483.3,696.3" stroke="#2a2a2a" stroke-width="1.1" fill="none"/>
<path d="M517.6999999999999,696.3 L522.1,700.7 M517.6999999999999,700.7 L522.1,696.3" stroke="#2a2a2a" stroke-width="1.1" fill="none"/>
<path d="M527.5,696.3 L531.9000000000001,700.7 M527.5,700.7 L531.9000000000001,696.3" stroke="#2a2a2a" stroke-width="1.1" fill="none"/>
<path d="M459.6,794.9 L464.0,799.3000000000001 M459.6,799.3000000000001 L464.0,794.9" stroke="#2a2a2a" stroke-width="1.1" fill="none"/>
<circle cx="461.8" cy="747.6" r="1.2" fill="#2a2a2a"/>
<circle cx="519.9" cy="747.6" r="1.2" fill="#2a2a2a"/>
<circle cx="504.6" cy="747.6" r="1.2" fill="#2a2a2a"/>
<circle cx="481.1" cy="779.7" r="1.2" fill="#2a2a2a"/>
<circle cx="498" cy="779.7" r="1.2" fill="#2a2a2a"/>
<circle cx="451.7" cy="779.7" r="1.2" fill="#2a2a2a"/>
<circle cx="461.8" cy="779.7" r="1.2" fill="#2a2a2a"/>
<circle cx="461.8" cy="788.7" r="1.2" fill="#2a2a2a"/>
<circle cx="461.8" cy="775.5" r="1.2" fill="#2a2a2a"/>
<circle cx="554" cy="747.6" r="1.2" fill="#2a2a2a"/>
<circle cx="554" cy="752.7" r="1.2" fill="#2a2a2a"/>
<circle cx="529.7" cy="752.7" r="1.2" fill="#2a2a2a"/>
<circle cx="481.1" cy="729.2" r="1.2" fill="#2a2a2a"/>
<circle cx="481.1" cy="708.7" r="1.2" fill="#2a2a2a"/>
<path d="M341.1,470.4 L345.1,474.4 M341.1,474.4 L345.1,470.4" stroke="#2a2a2a" stroke-width="1.1" fill="none"/>
<path d="M350.0,470.4 L354.0,474.4 M350.0,474.4 L354.0,470.4" stroke="#2a2a2a" stroke-width="1.1" fill="none"/>
<path d="M363.0,470.4 L367.0,474.4 M363.0,474.4 L367.0,470.4" stroke="#2a2a2a" stroke-width="1.1" fill="none"/>
<path d="M382.2,470.4 L386.2,474.4 M382.2,474.4 L386.2,470.4" stroke="#2a2a2a" stroke-width="1.1" fill="none"/>
<path d="M390.0,470.4 L394.0,474.4 M390.0,474.4 L394.0,470.4" stroke="#2a2a2a" stroke-width="1.1" fill="none"/>
<path d="M398.5,470.4 L402.5,474.4 M398.5,474.4 L402.5,470.4" stroke="#2a2a2a" stroke-width="1.1" fill="none"/>
<path d="M296.2,562.6 L300.2,566.6 M296.2,566.6 L300.2,562.6" stroke="#2a2a2a" stroke-width="1.1" fill="none"/>
<path d="M320.6,562.6 L324.6,566.6 M320.6,566.6 L324.6,562.6" stroke="#2a2a2a" stroke-width="1.1" fill="none"/>
<path d="M341.1,562.6 L345.1,566.6 M341.1,566.6 L345.1,562.6" stroke="#2a2a2a" stroke-width="1.1" fill="none"/>
<path d="M350.0,562.6 L354.0,566.6 M350.0,566.6 L354.0,562.6" stroke="#2a2a2a" stroke-width="1.1" fill="none"/>
<path d="M358.0,562.6 L362.0,566.6 M358.0,566.6 L362.0,562.6" stroke="#2a2a2a" stroke-width="1.1" fill="none"/>
<path d="M370.0,562.6 L374.0,566.6 M370.0,566.6 L374.0,562.6" stroke="#2a2a2a" stroke-width="1.1" fill="none"/>
<path d="M390.0,562.6 L394.0,566.6 M390.0,566.6 L394.0,562.6" stroke="#2a2a2a" stroke-width="1.1" fill="none"/>
<path d="M398.5,562.6 L402.5,566.6 M398.5,566.6 L402.5,562.6" stroke="#2a2a2a" stroke-width="1.1" fill="none"/>
<path d="M419.0,562.6 L423.0,566.6 M419.0,566.6 L423.0,562.6" stroke="#2a2a2a" stroke-width="1.1" fill="none"/>
<path d="M443.1,562.6 L447.1,566.6 M443.1,566.6 L447.1,562.6" stroke="#2a2a2a" stroke-width="1.1" fill="none"/>
<path d="M320.8,466.8 L324.40000000000003,470.40000000000003 M320.8,470.40000000000003 L324.40000000000003,466.8" stroke="#2a2a2a" stroke-width="1.1" fill="none"/>
<path d="M443.3,466.8 L446.90000000000003,470.40000000000003 M443.3,470.40000000000003 L446.90000000000003,466.8" stroke="#2a2a2a" stroke-width="1.1" fill="none"/>
<path d="M296.4,466.8 L300.0,470.40000000000003 M296.4,470.40000000000003 L300.0,466.8" stroke="#2a2a2a" stroke-width="1.1" fill="none"/>
<path d="M419.2,466.8 L422.8,470.40000000000003 M419.2,470.40000000000003 L422.8,466.8" stroke="#2a2a2a" stroke-width="1.1" fill="none"/>
<path d="M496.5,491.3 L500.5,495.3 M496.5,495.3 L500.5,491.3" stroke="#2a2a2a" stroke-width="1.1" fill="none"/>
<path d="M235.3,306.1 L239.3,310.1 M235.3,310.1 L239.3,306.1" stroke="#2a2a2a" stroke-width="1.1" fill="none"/>
<path d="M268.5,306.1 L272.5,310.1 M268.5,310.1 L272.5,306.1" stroke="#2a2a2a" stroke-width="1.1" fill="none"/>
<path d="M305.2,306.1 L309.2,310.1 M305.2,310.1 L309.2,306.1" stroke="#2a2a2a" stroke-width="1.1" fill="none"/>
<path d="M348.7,306.1 L352.7,310.1 M348.7,310.1 L352.7,306.1" stroke="#2a2a2a" stroke-width="1.1" fill="none"/>
<path d="M305.2,285.6 L309.2,289.6 M305.2,289.6 L309.2,285.6" stroke="#2a2a2a" stroke-width="1.1" fill="none"/>
<circle cx="244" cy="308.1" r="1.2" fill="#2a2a2a"/>
<circle cx="262.4" cy="314.8" r="1.2" fill="#2a2a2a"/>
<circle cx="318.8" cy="308.1" r="1.2" fill="#2a2a2a"/>
<circle cx="339.3" cy="308.1" r="1.2" fill="#2a2a2a"/>
<circle cx="342.9" cy="308.1" r="1.2" fill="#2a2a2a"/>
<rect x="247" y="302.5" width="8" height="11.0" stroke="none" stroke-width="0" fill="none"/>
<path d="M251,302.90000000000003 L256.2,308.1 L251,313.3 L245.8,308.1 Z" stroke="#2a2a2a" stroke-width="1.1" fill="#fff"/>
<path d="M251,304.5 V311.7" stroke="#2a2a2a" stroke-width="0.7" fill="none"/>
<circle cx="328.9" cy="308.1" r="6.4" stroke="#2a2a2a" stroke-width="1.2" fill="#fff"/>
<path d="M322.5,306 L325.5,308.1 L322.5,310.2 Z M335.3,306 L332.3,308.1 L335.3,310.2 Z" fill="#2a2a2a"/>
<circle cx="658.9" cy="349.6" r="1.8" stroke="#2a2a2a" stroke-width="1.0" fill="#fff"/>
<path d="M547.2,548.4 L551.2,552.4 M547.2,552.4 L551.2,548.4" stroke="#2a2a2a" stroke-width="1.1" fill="none"/>
<circle cx="526.2" cy="493.3" r="1.2" fill="#2a2a2a"/>
</svg><svg class="abs" style="left:0;top:0" width="1504" height="998" font-family="Liberation Sans, sans-serif">
<text x="429.8" y="168" font-size="9.6" text-anchor="start" font-weight="bold" fill="#1a1a1a" textLength="95.4" lengthAdjust="spacingAndGlyphs">FRONT OF MACHINE</text>
<text x="441.4" y="189.9" font-size="9.6" text-anchor="start" font-weight="bold" fill="#1a1a1a" textLength="80.8" lengthAdjust="spacingAndGlyphs">TRACK ROTATION</text>
<text x="391" y="213.8" font-size="7" text-anchor="start" font-weight="bold" fill="#1a1a1a" textLength="68" lengthAdjust="spacingAndGlyphs">LEFT DRIVE MOTOR</text>
<text x="527.5" y="214.5" font-size="7" text-anchor="start" font-weight="bold" fill="#1a1a1a">F</text>
<text x="392" y="223" font-size="5" text-anchor="start" font-weight="bold" fill="#1a1a1a" textLength="38" lengthAdjust="spacingAndGlyphs" stroke="#111" stroke-width="0.25">290 psi (20 bar),</text>
<text x="392" y="229" font-size="5" text-anchor="start" font-weight="bold" fill="#1a1a1a" textLength="51" lengthAdjust="spacingAndGlyphs" stroke="#111" stroke-width="0.25">0.05 in. (1.3 mm) shim</text>
<text x="493.5" y="247.5" font-size="5.5" text-anchor="start" font-weight="bold" fill="#1a1a1a" stroke="#111" stroke-width="0.1">174</text>
<text x="493.5" y="253.1" font-size="5.5" text-anchor="start" font-weight="bold" fill="#1a1a1a" stroke="#111" stroke-width="0.1">psi</text>
<text x="493.5" y="258.7" font-size="5.5" text-anchor="start" font-weight="bold" fill="#1a1a1a" stroke="#111" stroke-width="0.1">(12</text>
<text x="493.5" y="264.3" font-size="5.5" text-anchor="start" font-weight="bold" fill="#1a1a1a" stroke="#111" stroke-width="0.1">bar)</text>
<text x="420.5" y="279" font-size="5.3" text-anchor="end" font-weight="bold" fill="#1a1a1a" textLength="14" lengthAdjust="spacingAndGlyphs" stroke="#111" stroke-width="0.25">0.08 in.</text>
<text x="420.5" y="284" font-size="5.3" text-anchor="end" font-weight="bold" fill="#1a1a1a" textLength="25.5" lengthAdjust="spacingAndGlyphs" stroke="#111" stroke-width="0.25">(ø 2.0 mm)</text>
<text x="399.6" y="297.3" font-size="5.3" text-anchor="start" font-weight="bold" fill="#1a1a1a" textLength="35" lengthAdjust="spacingAndGlyphs" stroke="#111" stroke-width="0.25">145 psi (10 bar)</text>
<text x="399.6" y="302.3" font-size="5.3" text-anchor="start" font-weight="bold" fill="#1a1a1a" textLength="21.5" lengthAdjust="spacingAndGlyphs" stroke="#111" stroke-width="0.25">SPRINGS</text>
<text x="474" y="294.5" font-size="5.5" text-anchor="start" font-weight="bold" fill="#1a1a1a" stroke="#111" stroke-width="0.1">218</text>
<text x="474" y="300.1" font-size="5.5" text-anchor="start" font-weight="bold" fill="#1a1a1a" stroke="#111" stroke-width="0.1">psi</text>
<text x="474" y="305.7" font-size="5.5" text-anchor="start" font-weight="bold" fill="#1a1a1a" stroke="#111" stroke-width="0.1">(15</text>
<text x="474" y="311.3" font-size="5.5" text-anchor="start" font-weight="bold" fill="#1a1a1a" stroke="#111" stroke-width="0.1">bar)</text>
<text x="572" y="292" font-size="5.5" text-anchor="start" font-weight="bold" fill="#1a1a1a" stroke="#111" stroke-width="0.1">174-</text>
<text x="572" y="298" font-size="5.5" text-anchor="start" font-weight="bold" fill="#1a1a1a" stroke="#111" stroke-width="0.1">232 psi</text>
<text x="572" y="304" font-size="5.5" text-anchor="start" font-weight="bold" fill="#1a1a1a" stroke="#111" stroke-width="0.1">(12-16</text>
<text x="572" y="310" font-size="5.5" text-anchor="start" font-weight="bold" fill="#1a1a1a" stroke="#111" stroke-width="0.1">bar)</text>
<text x="392.7" y="315.7" font-size="5" text-anchor="start" font-weight="bold" fill="#1a1a1a" textLength="40.6" lengthAdjust="spacingAndGlyphs" stroke="#111" stroke-width="0.25">FLUSHING VALVE</text>
<text x="454" y="325.6" font-size="7.2" text-anchor="start" font-weight="bold" fill="#1a1a1a">A</text>
<text x="472.5" y="325.6" font-size="7.2" text-anchor="start" font-weight="bold" fill="#1a1a1a">B</text>
<text x="512" y="325.6" font-size="7.2" text-anchor="start" font-weight="bold" fill="#1a1a1a">X</text>
<text x="528" y="325.6" font-size="7.2" text-anchor="start" font-weight="bold" fill="#1a1a1a">L</text>
<text x="571" y="325.6" font-size="7.2" text-anchor="start" font-weight="bold" fill="#1a1a1a">Z</text>
<text x="254.7" y="270.7" font-size="7.2" text-anchor="middle" font-weight="bold" fill="#1a1a1a" textLength="41" lengthAdjust="spacingAndGlyphs">HYDRAULIC</text>
<text x="254.7" y="278.7" font-size="7.2" text-anchor="middle" font-weight="bold" fill="#1a1a1a" textLength="37" lengthAdjust="spacingAndGlyphs">OIL FILTER</text>
<text x="254.5" y="286.5" font-size="4.8" text-anchor="middle" font-weight="bold" fill="#1a1a1a" stroke="#111" stroke-width="0.22">4 Micron</text>
<text x="308.8" y="278.5" font-size="7.2" text-anchor="start" font-weight="bold" fill="#1a1a1a" textLength="41" lengthAdjust="spacingAndGlyphs">FAN MOTOR</text>
<text x="299" y="285" font-size="7.2" text-anchor="start" font-weight="bold" fill="#1a1a1a">D</text>
<text x="299" y="304.5" font-size="7.2" text-anchor="start" font-weight="bold" fill="#1a1a1a">B</text>
<text x="352.5" y="304.5" font-size="7.2" text-anchor="start" font-weight="bold" fill="#1a1a1a">A</text>
<text x="255" y="329.8" font-size="7" text-anchor="end" font-weight="bold" fill="#1a1a1a">40 psi</text>
<text x="255.5" y="336.4" font-size="7" text-anchor="end" font-weight="bold" fill="#1a1a1a">(2.76 bar)</text>
<text x="288" y="361.6" font-size="7.2" text-anchor="end" font-weight="bold" fill="#1a1a1a">VARIABLE</text>
<text x="288" y="369.65000000000003" font-size="7.2" text-anchor="end" font-weight="bold" fill="#1a1a1a">SPEED</text>
<text x="288" y="377.70000000000005" font-size="7.2" text-anchor="end" font-weight="bold" fill="#1a1a1a">(OPTION)</text>
<text x="262" y="425" font-size="7.5" text-anchor="middle" font-weight="bold" fill="#1a1a1a">M14</text>
<text x="482.3" y="424.7" font-size="7.5" text-anchor="middle" font-weight="bold" fill="#1a1a1a">M14</text>
<text x="588.7" y="422.7" font-size="7.3" text-anchor="middle" font-weight="bold" fill="#1a1a1a">HIGHFLOW</text>
<text x="588.7" y="431.2" font-size="7.3" text-anchor="middle" font-weight="bold" fill="#1a1a1a">VALVE</text>
<text x="588.7" y="439.7" font-size="7.3" text-anchor="middle" font-weight="bold" fill="#1a1a1a">(OPTION)</text>
<text x="243" y="441" font-size="4.5" text-anchor="start" font-weight="bold" fill="#1a1a1a" stroke="#111" stroke-width="0.22">Y165-C1</text>
<text x="311" y="441" font-size="4.5" text-anchor="start" font-weight="bold" fill="#1a1a1a" stroke="#111" stroke-width="0.22">Y166-C2</text>
<text x="413" y="441" font-size="4.5" text-anchor="start" font-weight="bold" fill="#1a1a1a" stroke="#111" stroke-width="0.22">Y163-C2</text>
<text x="481" y="441" font-size="4.5" text-anchor="start" font-weight="bold" fill="#1a1a1a" stroke="#111" stroke-width="0.22">Y164-C1</text>
<text x="258" y="465.5" font-size="6.5" text-anchor="start" font-weight="bold" fill="#1a1a1a" stroke="#111" stroke-width="0.1">B119</text>
<text x="473" y="465.5" font-size="6.5" text-anchor="start" font-weight="bold" fill="#1a1a1a" stroke="#111" stroke-width="0.1">B118</text>
<text x="336.5" y="465" font-size="7.2" text-anchor="start" font-weight="bold" fill="#1a1a1a">A</text>
<text x="345.5" y="465" font-size="7.2" text-anchor="start" font-weight="bold" fill="#1a1a1a">MA</text>
<text x="358.5" y="465" font-size="7.2" text-anchor="start" font-weight="bold" fill="#1a1a1a">AM3</text>
<text x="377" y="465" font-size="7.2" text-anchor="start" font-weight="bold" fill="#1a1a1a">E</text>
<text x="386.5" y="465" font-size="7.2" text-anchor="start" font-weight="bold" fill="#1a1a1a">MD</text>
<text x="401" y="465" font-size="7.2" text-anchor="start" font-weight="bold" fill="#1a1a1a">D</text>
<text x="500.5" y="500" font-size="7.2" text-anchor="start" font-weight="bold" fill="#1a1a1a">L3</text>
<text x="142" y="494" font-size="7" text-anchor="end" font-weight="bold" fill="#1a1a1a">235 °F</text>
<text x="146" y="502.5" font-size="7" text-anchor="end" font-weight="bold" fill="#1a1a1a">(113 °C)</text>
<text x="162" y="542.7" font-size="7.2" text-anchor="middle" font-weight="bold" fill="#1a1a1a" textLength="42" lengthAdjust="spacingAndGlyphs">CASE DRAIN</text>
<text x="162" y="550.7" font-size="7.2" text-anchor="middle" font-weight="bold" fill="#1a1a1a" textLength="36" lengthAdjust="spacingAndGlyphs">MANIFOLD</text>
<text x="161" y="557.7" font-size="4.8" text-anchor="middle" font-weight="bold" fill="#1a1a1a" stroke="#111" stroke-width="0.22">100 Micron</text>
<text x="282" y="551.7" font-size="5.8" text-anchor="middle" font-weight="bold" fill="#1a1a1a" stroke="#111" stroke-width="0.1">RIGHT</text>
<text x="282" y="556.9" font-size="5.8" text-anchor="middle" font-weight="bold" fill="#1a1a1a" stroke="#111" stroke-width="0.1">DRIVE</text>
<text x="461" y="551.7" font-size="5.8" text-anchor="middle" font-weight="bold" fill="#1a1a1a" stroke="#111" stroke-width="0.1">LEFT</text>
<text x="461" y="556.9" font-size="5.8" text-anchor="middle" font-weight="bold" fill="#1a1a1a" stroke="#111" stroke-width="0.1">DRIVE</text>
<text x="371" y="530" font-size="6.2" text-anchor="middle" font-weight="bold" fill="#1a1a1a" stroke="#111" stroke-width="0.1">406 psi</text>
<text x="371" y="537" font-size="6.2" text-anchor="middle" font-weight="bold" fill="#1a1a1a" stroke="#111" stroke-width="0.1">(28 bar)</text>
<text x="590" y="482" font-size="6.5" text-anchor="middle" font-weight="bold" fill="#1a1a1a" stroke="#111" stroke-width="0.1">3336 psi</text>
<text x="590" y="489.5" font-size="6.5" text-anchor="middle" font-weight="bold" fill="#1a1a1a" stroke="#111" stroke-width="0.1">(230 bar)</text>
<text x="236" y="572" font-size="7.2" text-anchor="start" font-weight="bold" fill="#1a1a1a" textLength="47" lengthAdjust="spacingAndGlyphs">HYDROSTATIC</text>
<text x="236" y="580.7" font-size="7.2" text-anchor="start" font-weight="bold" fill="#1a1a1a" textLength="43" lengthAdjust="spacingAndGlyphs">DRIVE PUMP</text>
<text x="293.5" y="572.5" font-size="7.2" text-anchor="start" font-weight="bold" fill="#1a1a1a">M5</text>
<text x="318" y="572.5" font-size="7.2" text-anchor="start" font-weight="bold" fill="#1a1a1a">M4</text>
<text x="336" y="572.5" font-size="7.2" text-anchor="start" font-weight="bold" fill="#1a1a1a">B</text>
<text x="346" y="572.5" font-size="7.2" text-anchor="start" font-weight="bold" fill="#1a1a1a">MB</text>
<text x="359" y="572.5" font-size="7.2" text-anchor="start" font-weight="bold" fill="#1a1a1a">M3</text>
<text x="386.5" y="572.5" font-size="7.2" text-anchor="start" font-weight="bold" fill="#1a1a1a">MC</text>
<text x="402" y="572.5" font-size="7.2" text-anchor="start" font-weight="bold" fill="#1a1a1a">C</text>
<text x="416" y="572.5" font-size="7.2" text-anchor="start" font-weight="bold" fill="#1a1a1a">M4</text>
<text x="440" y="572.5" font-size="7.2" text-anchor="start" font-weight="bold" fill="#1a1a1a">M5</text>
<text x="166.7" y="586.7" font-size="7.2" text-anchor="middle" font-weight="bold" fill="#1a1a1a" textLength="72" lengthAdjust="spacingAndGlyphs">COOLING ASSEMBLY</text>
<text x="262.5" y="637.5" font-size="6.5" text-anchor="middle" font-weight="bold" fill="#1a1a1a" stroke="#111" stroke-width="0.1">CAP</text>
<text x="262.5" y="645.0" font-size="6.5" text-anchor="middle" font-weight="bold" fill="#1a1a1a" stroke="#111" stroke-width="0.1">5 psi</text>
<text x="262.5" y="652.5" font-size="6.5" text-anchor="middle" font-weight="bold" fill="#1a1a1a" stroke="#111" stroke-width="0.1">(.345 bar)</text>
<text x="282.2" y="709.8" font-size="7" text-anchor="middle" font-weight="bold" fill="#1a1a1a" textLength="53" lengthAdjust="spacingAndGlyphs">HYDRAULIC OIL</text>
<text x="282.2" y="716.6" font-size="7" text-anchor="middle" font-weight="bold" fill="#1a1a1a">TANK</text>
<text x="420" y="695.8" font-size="7.2" text-anchor="start" font-weight="bold" fill="#1a1a1a">Z</text>
<text x="464" y="695.8" font-size="7.2" text-anchor="start" font-weight="bold" fill="#1a1a1a">L</text>
<text x="481" y="695.8" font-size="7.2" text-anchor="start" font-weight="bold" fill="#1a1a1a">X</text>
<text x="511" y="695.8" font-size="7.2" text-anchor="start" font-weight="bold" fill="#1a1a1a">B</text>
<text x="533" y="695.8" font-size="7.2" text-anchor="start" font-weight="bold" fill="#1a1a1a">A</text>
<text x="394" y="711.0" font-size="5.5" text-anchor="start" font-weight="bold" fill="#1a1a1a" stroke="#111" stroke-width="0.1">174-</text>
<text x="394" y="716.7" font-size="5.5" text-anchor="start" font-weight="bold" fill="#1a1a1a" stroke="#111" stroke-width="0.1">232 psi</text>
<text x="394" y="722.4" font-size="5.5" text-anchor="start" font-weight="bold" fill="#1a1a1a" stroke="#111" stroke-width="0.1">(12-16</text>
<text x="394" y="728.1" font-size="5.5" text-anchor="start" font-weight="bold" fill="#1a1a1a" stroke="#111" stroke-width="0.1">bar)</text>
<text x="505" y="711.0" font-size="5.5" text-anchor="start" font-weight="bold" fill="#1a1a1a" stroke="#111" stroke-width="0.1">218</text>
<text x="505" y="716.4" font-size="5.5" text-anchor="start" font-weight="bold" fill="#1a1a1a" stroke="#111" stroke-width="0.1">psi</text>
<text x="505" y="721.8" font-size="5.5" text-anchor="start" font-weight="bold" fill="#1a1a1a" stroke="#111" stroke-width="0.1">(15</text>
<text x="505" y="727.2" font-size="5.5" text-anchor="start" font-weight="bold" fill="#1a1a1a" stroke="#111" stroke-width="0.1">bar)</text>
<text x="485" y="761.0" font-size="5.5" text-anchor="start" font-weight="bold" fill="#1a1a1a" stroke="#111" stroke-width="0.1">174</text>
<text x="485" y="766.6" font-size="5.5" text-anchor="start" font-weight="bold" fill="#1a1a1a" stroke="#111" stroke-width="0.1">psi</text>
<text x="485" y="772.2" font-size="5.5" text-anchor="start" font-weight="bold" fill="#1a1a1a" stroke="#111" stroke-width="0.1">(12</text>
<text x="485" y="777.8" font-size="5.5" text-anchor="start" font-weight="bold" fill="#1a1a1a" stroke="#111" stroke-width="0.1">bar)</text>
<text x="551" y="706" font-size="5" text-anchor="start" font-weight="bold" fill="#1a1a1a" textLength="43" lengthAdjust="spacingAndGlyphs" stroke="#111" stroke-width="0.25">FLUSHING VALVE</text>
<text x="572" y="714" font-size="5.3" text-anchor="start" font-weight="bold" fill="#1a1a1a" stroke="#111" stroke-width="0.25">145 psi</text>
<text x="572" y="719" font-size="5.3" text-anchor="start" font-weight="bold" fill="#1a1a1a" stroke="#111" stroke-width="0.25">(10 bar)</text>
<text x="572" y="724" font-size="5.3" text-anchor="start" font-weight="bold" fill="#1a1a1a" stroke="#111" stroke-width="0.25">SPRINGS</text>
<text x="598" y="739.0" font-size="5.3" text-anchor="end" font-weight="bold" fill="#1a1a1a" stroke="#111" stroke-width="0.25">0.08 in.</text>
<text x="598" y="744.5" font-size="5.3" text-anchor="end" font-weight="bold" fill="#1a1a1a" stroke="#111" stroke-width="0.25">(ø 2.0 mm)</text>
<text x="549" y="789" font-size="5" text-anchor="start" font-weight="bold" fill="#1a1a1a" textLength="40" lengthAdjust="spacingAndGlyphs" stroke="#111" stroke-width="0.25">290 psi (20 bar),</text>
<text x="549" y="794.5" font-size="5" text-anchor="start" font-weight="bold" fill="#1a1a1a" textLength="52" lengthAdjust="spacingAndGlyphs" stroke="#111" stroke-width="0.25">0.05 in. (1.3 mm) shim</text>
<text x="452.5" y="804" font-size="7.2" text-anchor="start" font-weight="bold" fill="#1a1a1a">F</text>
<text x="532" y="805.7" font-size="7.2" text-anchor="start" font-weight="bold" fill="#1a1a1a" textLength="70.8" lengthAdjust="spacingAndGlyphs">RIGHT DRIVE MOTOR</text>
<text x="475.4" y="826.6" font-size="9.6" text-anchor="start" font-weight="bold" fill="#1a1a1a" textLength="80.9" lengthAdjust="spacingAndGlyphs">TRACK ROTATION</text>
<text x="648" y="837" font-size="6.5" text-anchor="start" font-weight="bold" fill="#1a1a1a" textLength="19" lengthAdjust="spacingAndGlyphs" stroke="#111" stroke-width="0.1">62156</text>
<text x="325" y="483" font-size="4.2" text-anchor="start" font-weight="bold" fill="#1a1a1a" stroke="#111" stroke-width="0.22">5511 psi</text>
<text x="325" y="487" font-size="4.2" text-anchor="start" font-weight="bold" fill="#1a1a1a" stroke="#111" stroke-width="0.22">(380 bar)</text>
<text x="325" y="518" font-size="4.2" text-anchor="start" font-weight="bold" fill="#1a1a1a" stroke="#111" stroke-width="0.22">5511 psi</text>
<text x="325" y="522" font-size="4.2" text-anchor="start" font-weight="bold" fill="#1a1a1a" stroke="#111" stroke-width="0.22">(380 bar)</text>
<text x="403" y="483" font-size="4.2" text-anchor="start" font-weight="bold" fill="#1a1a1a" stroke="#111" stroke-width="0.22">5511 psi</text>
<text x="403" y="487" font-size="4.2" text-anchor="start" font-weight="bold" fill="#1a1a1a" stroke="#111" stroke-width="0.22">(380 bar)</text>
<text x="403" y="518" font-size="4.2" text-anchor="start" font-weight="bold" fill="#1a1a1a" stroke="#111" stroke-width="0.22">5511 psi</text>
<text x="403" y="522" font-size="4.2" text-anchor="start" font-weight="bold" fill="#1a1a1a" stroke="#111" stroke-width="0.22">(380 bar)</text>
<text x="303.5" y="497.5" font-size="3.6" text-anchor="start" font-weight="bold" fill="#1a1a1a" stroke="#111" stroke-width="0.22">Flow block</text>
<text x="425" y="497.5" font-size="3.6" text-anchor="start" font-weight="bold" fill="#1a1a1a" stroke="#111" stroke-width="0.22">Flow block</text>
<text x="521.4" y="532.5" font-size="3.4" text-anchor="middle" font-weight="bold" fill="#1a1a1a" stroke="#111" stroke-width="0.22">1.8 ml</text>
<text x="521.4" y="536.5" font-size="3.4" text-anchor="middle" font-weight="bold" fill="#1a1a1a" stroke="#111" stroke-width="0.22">(29.7 cc)</text>
<text x="549.2" y="532.5" font-size="3.4" text-anchor="middle" font-weight="bold" fill="#1a1a1a" stroke="#111" stroke-width="0.22">0.9 ml</text>
<text x="549.2" y="536.5" font-size="3.4" text-anchor="middle" font-weight="bold" fill="#1a1a1a" stroke="#111" stroke-width="0.22">(14.8 cc)</text>
<text x="577.0" y="532.5" font-size="3.4" text-anchor="middle" font-weight="bold" fill="#1a1a1a" stroke="#111" stroke-width="0.22">0.9 ml</text>
<text x="577.0" y="536.5" font-size="3.4" text-anchor="middle" font-weight="bold" fill="#1a1a1a" stroke="#111" stroke-width="0.22">(14.8 cc)</text>
<text x="170.3" y="754.9" font-size="9.8" text-anchor="start" font-weight="bold" fill="#1a1a1a" textLength="82.7" lengthAdjust="spacingAndGlyphs">Drive Pressure Oil</text>
<text x="170.3" y="773" font-size="9.8" text-anchor="start" font-weight="bold" fill="#1a1a1a" textLength="91.5" lengthAdjust="spacingAndGlyphs">Charge Pressure Oil</text>
<text x="170.3" y="791.5" font-size="9.8" text-anchor="start" font-weight="bold" fill="#1a1a1a" textLength="73.9" lengthAdjust="spacingAndGlyphs">Inlet or Drain Oil</text>
<text x="170.3" y="810" font-size="9.8" text-anchor="start" font-weight="bold" fill="#1a1a1a" textLength="45.5" lengthAdjust="spacingAndGlyphs">Return Oil</text>
<text x="353.6" y="861.9" font-size="12.4" text-anchor="start" font-weight="bold" fill="#1a1a1a" textLength="63.4" lengthAdjust="spacingAndGlyphs">Figure 3-20</text>
<g fill="#ec1820"><circle cx="155.4" cy="751.9" r="6.8"/></g>
<g fill="#f89e1b"><circle cx="155.4" cy="769.9" r="6.8"/></g>
<g fill="#0ba550"><circle cx="155.4" cy="788.1" r="6.8"/></g>
<g fill="#1370bf"><circle cx="155.4" cy="806.6" r="6.8"/></g>
<g fill="#fff" stroke="#222" stroke-width="1.1">
 <path d="M530.5,161.2 H547.1 V155.5 L558.4,164.8 L547.1,174 V168.4 H530.5 Z"/>
 <path d="M530.5,183.3 H547.1 V177.6 L558.4,186.9 L547.1,196.2 V190.5 H530.5 Z"/>
 <path d="M468.5,819.5 H453 V814.7 L441,823.6 L453,832.6 V827.8 H468.5 Z"/>
</g>
</svg>


<!-- footers -->
<div class="rule" style="left:71px;top:902px;width:629px;height:1.5px"></div>
<div class="rule" style="left:794px;top:902px;width:629px;height:1.5px"></div>


<div class="t" id="lfoot" style="left:71.3px;top:909.4px;font-weight:bold;font-size:9.7px">5100029245 (03-18)</div>
<div class="t" id="lpg" style="left:680.5px;top:909.4px;font-weight:bold;font-size:9.8px">3-39</div>
<div class="t" id="rpg" style="left:794px;top:909.4px;font-weight:bold;font-size:9.8px">3-40</div>
<div class="t" id="rfoot" style="left:1335.3px;top:909.4px;font-weight:bold;font-size:9.7px">5100029245 (03-18)</div>
<svg class="abs" style="left:0;top:0" width="1504" height="998" font-family="Liberation Sans, sans-serif">
 <g id="logoL">
  <circle cx="371.6" cy="917.9" r="8" fill="#e8e8e8" stroke="#555" stroke-width="1.6"/>
  <path d="M365.5,913.5 L368.5,922.5 L371.6,916.5 L374.7,922.5 L377.7,913.5" fill="none" stroke="#d8321e" stroke-width="2.6" stroke-linejoin="round"/>
  <text x="393.2" y="917" font-size="7.8" font-weight="bold" fill="#3f4446" stroke="#3f4446" stroke-width="0.35" textLength="41.7" lengthAdjust="spacingAndGlyphs">WACKER</text>
  <text x="393.2" y="924.6" font-size="7.8" font-weight="bold" fill="#3f4446" stroke="#3f4446" stroke-width="0.35" textLength="42.3" lengthAdjust="spacingAndGlyphs">NEUSON</text>
  <text x="409" y="932" font-size="6" font-style="italic" fill="#333" textLength="32" lengthAdjust="spacingAndGlyphs">all it takes!</text>
  <path d="M407,934.5 Q420,933 441,932.5" fill="none" stroke="#444" stroke-width="0.7"/>
 </g>
 <g transform="translate(722.8,0)">
  <circle cx="371.6" cy="917.9" r="8" fill="#e8e8e8" stroke="#555" stroke-width="1.6"/>
  <path d="M365.5,913.5 L368.5,922.5 L371.6,916.5 L374.7,922.5 L377.7,913.5" fill="none" stroke="#d8321e" stroke-width="2.6" stroke-linejoin="round"/>
  <text x="393.2" y="917" font-size="7.8" font-weight="bold" fill="#3f4446" stroke="#3f4446" stroke-width="0.35" textLength="41.7" lengthAdjust="spacingAndGlyphs">WACKER</text>
  <text x="393.2" y="924.6" font-size="7.8" font-weight="bold" fill="#3f4446" stroke="#3f4446" stroke-width="0.35" textLength="42.3" lengthAdjust="spacingAndGlyphs">NEUSON</text>
  <text x="409" y="932" font-size="6" font-style="italic" fill="#333" textLength="32" lengthAdjust="spacingAndGlyphs">all it takes!</text>
  <path d="M407,934.5 Q420,933 441,932.5" fill="none" stroke="#444" stroke-width="0.7"/>
 </g>
</svg>

<div id="toolbar">
<svg class="abs" style="left:0;top:0" width="1504" height="30" font-family="Liberation Sans, sans-serif">
 <g fill="#1a1a1a">
  <path d="M575,15.5 L582,9 V22 Z"/><rect x="584.2" y="9" width="2.6" height="13"/>
  <path d="M602.1,15.5 L609.1,9 V22 Z"/>
  <path d="M752.1,15.3 L744.8,8.6 V22 Z"/>
  <rect x="767.8" y="8.6" width="3.1" height="13.4"/><path d="M780,15.3 L773,8.6 V22 Z"/>
 </g>
 <rect x="621.5" y="5.5" width="114" height="19" fill="#fff" stroke="#a0a0a0" stroke-width="1"/>
 <text x="626" y="19.7" font-size="12.6" fill="#111" textLength="54" lengthAdjust="spacingAndGlyphs">303 / 504</text>
 <path d="M725.8,14 H731.2 L728.5,17 Z" fill="#222"/>
 <g fill="none" stroke-width="1.3">
  <rect x="797.6" y="14.6" width="9.6" height="8.4" stroke="#6a6a6a" fill="#fff"/>
  <path d="M792.5,18.5 V9 H799.5" stroke="#4a6fa8"/>
  <path d="M800.3,10.7 H806.9 M800.3,10.7 L802.6,8.4 M800.3,10.7 L802.6,13" stroke="#5a9a80"/>
  <path d="M818.6,14.5 V8.6 H828.4 V14" stroke="#c4c4c4"/>
  <rect x="823.2" y="14.6" width="10.3" height="8.4" stroke="#c4c4c4" fill="#eef2f6"/>
  <path d="M819,19 H826 M826,19 L823.8,16.8 M826,19 L823.8,21.2" stroke="#b8d0c4"/>
 </g>
 <g fill="none" stroke="#666" stroke-width="1">
  <rect x="1348.5" y="10.5" width="9" height="13"/>
  <path d="M1350.5,14.5 H1355.5 M1350.5,17 H1355.5 M1350.5,19.5 H1355.5"/>
  <path d="M1373.5,18 V10.5 H1382.5 V18 M1373.5,23 V20.5 H1382.5 V23 M1375.5,13.5 H1380.5 M1375.5,16 H1380.5"/>
 </g>
 <rect x="1394" y="8" width="24" height="17" fill="#c5dbf5"/>
 <g fill="none" stroke="#555" stroke-width="1">
  <rect x="1397.5" y="10.5" width="7" height="12"/><rect x="1407.5" y="10.5" width="7" height="12"/>
  <path d="M1399.5,14 H1402.5 M1399.5,16.5 H1402.5 M1399.5,19 H1402.5 M1409.5,14 H1412.5 M1409.5,16.5 H1412.5 M1409.5,19 H1412.5"/>
 </g>
 <g fill="none" stroke="#666" stroke-width="1">
  <path d="M1424.5,10.5 H1431 V18 H1424.5 M1433.5,10.5 H1440 M1433.5,10.5 V18 H1440 M1424.5,20.5 H1431 V23 M1433.5,23 V20.5 H1440 M1425,13 H1430 M1425,15.5 H1430 M1434.5,13 H1439.5 M1434.5,15.5 H1439.5"/>
 </g>
 <text x="1461.5" y="20" font-size="12.4" fill="#222" textLength="42.5" lengthAdjust="spacingAndGlyphs">90.34%</text>
</svg>
</div>
</body></html>
